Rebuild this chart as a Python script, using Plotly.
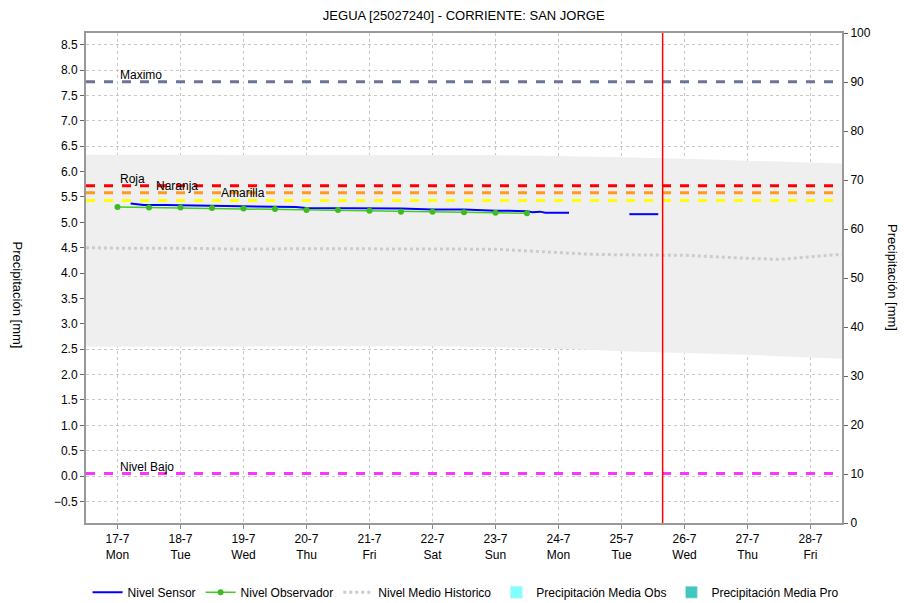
import plotly.graph_objects as go

# ---------------- DATA ----------------
title = "JEGUA [25027240] - CORRIENTE: SAN JORGE"

day_ticks = ["2023-07-%02d" % d for d in range(17, 29)]
day_labels = ["17-7<br>Mon", "18-7<br>Tue", "19-7<br>Wed", "20-7<br>Thu", "21-7<br>Fri",
              "22-7<br>Sat", "23-7<br>Sun", "24-7<br>Mon", "25-7<br>Tue", "26-7<br>Wed",
              "27-7<br>Thu", "28-7<br>Fri"]

sensor_time = ["2023-07-17 05:00", "2023-07-17 08:00", "2023-07-17 10:00", "2023-07-17 18:00",
               "2023-07-18 12:00", "2023-07-19 00:00", "2023-07-19 12:00", "2023-07-19 20:00",
               "2023-07-20 00:00", "2023-07-20 12:00", "2023-07-21 00:00", "2023-07-21 12:00",
               "2023-07-22 00:00", "2023-07-22 12:00", "2023-07-23 00:00", "2023-07-23 12:00",
               "2023-07-23 14:00", "2023-07-23 17:00", "2023-07-23 19:00", "2023-07-24 04:00",
               "2023-07-24 16:00",
               "2023-07-25 03:00", "2023-07-25 14:00"]
sensor_level = [5.37, 5.36, 5.34, 5.34, 5.33, 5.32, 5.31, 5.30,
                5.28, 5.28, 5.27, 5.27, 5.25, 5.25, 5.23, 5.22,
                5.20, 5.21, 5.19, 5.19,
                None,
                5.16, 5.16]

obs_time = ["2023-07-17 00:00", "2023-07-17 12:00", "2023-07-18 00:00", "2023-07-18 12:00",
            "2023-07-19 00:00", "2023-07-19 12:00", "2023-07-20 00:00", "2023-07-20 12:00",
            "2023-07-21 00:00", "2023-07-21 12:00", "2023-07-22 00:00", "2023-07-22 12:00",
            "2023-07-23 00:00", "2023-07-23 12:00"]
obs_level = [5.30, 5.29, 5.29, 5.28, 5.27, 5.26, 5.24, 5.24, 5.23, 5.21, 5.21, 5.20, 5.19, 5.18]

hist_time = ["2023-07-16 12:00", "2023-07-17 00:00", "2023-07-18 00:00", "2023-07-19 00:00",
             "2023-07-20 00:00", "2023-07-21 00:00", "2023-07-22 00:00", "2023-07-23 00:00",
             "2023-07-23 18:00", "2023-07-24 12:00", "2023-07-25 00:00", "2023-07-26 00:00",
             "2023-07-27 00:00", "2023-07-27 12:00", "2023-07-28 00:00", "2023-07-28 12:00"]
hist_mean = [4.50, 4.49, 4.49, 4.47, 4.48, 4.48, 4.47, 4.47,
             4.42, 4.37, 4.36, 4.35, 4.29, 4.27, 4.32, 4.37]
hist_upper = [6.33, 6.33, 6.33, 6.33, 6.33, 6.33, 6.32, 6.32,
              6.31, 6.30, 6.28, 6.25, 6.21, 6.19, 6.17, 6.16]
hist_lower = [2.55, 2.55, 2.55, 2.55, 2.55, 2.56, 2.56, 2.54,
              2.52, 2.49, 2.46, 2.43, 2.39, 2.36, 2.33, 2.31]

threshold_names = ["Maximo", "Roja", "Naranja", "Amarilla", "Nivel Bajo"]
threshold_values = [7.77, 5.72, 5.58, 5.43, 0.05]
threshold_label_time = ["2023-07-17 00:00", "2023-07-17 00:00", "2023-07-17 14:00",
                        "2023-07-18 14:30", "2023-07-17 00:00"]

now_time = "2023-07-25 15:40"

# ---------------- STYLE ----------------
threshold_colors = ["#6c7396", "#ff0000", "#ff9a1f", "#ffff00", "#ff33ff"]
FONT = "Liberation Sans, Arial, sans-serif"

fig = go.Figure()

# historic band
fig.add_trace(go.Scatter(x=hist_time, y=hist_upper, mode="lines", line=dict(width=0),
                         showlegend=False, hoverinfo="skip"))
fig.add_trace(go.Scatter(x=hist_time, y=hist_lower, mode="lines", line=dict(width=0),
                         fill="tonexty", fillcolor="#efefef", showlegend=False, hoverinfo="skip"))

# thresholds
for name, val, col, lt in zip(threshold_names, threshold_values, threshold_colors, threshold_label_time):
    fig.add_hline(y=val, line=dict(color=col, width=3, dash="dash"), layer="above")
    fig.add_annotation(x=lt, y=val, text=name, showarrow=False, xanchor="left",
                       yanchor="middle", yshift=7, font=dict(size=12, color="black", family=FONT))

fig.add_trace(go.Scatter(x=sensor_time, y=sensor_level, mode="lines", name="Nivel Sensor",
                         line=dict(color="#0000ff", width=2), connectgaps=False))
fig.add_trace(go.Scatter(x=obs_time, y=obs_level, mode="lines+markers", name="Nivel Observador",
                         line=dict(color="#44cc22", width=1.5),
                         marker=dict(color="#3cbb22", size=6)))
fig.add_trace(go.Scatter(x=hist_time, y=hist_mean, mode="lines", name="Nivel Medio Historico",
                         line=dict(color="#cccccc", width=3, dash="dot")))

# precipitation legend entries (no visible data)
fig.add_trace(go.Bar(x=[day_ticks[0]], y=[0], name="Precipitación Media Obs",
                     marker_color="#80ffff", yaxis="y2"))
fig.add_trace(go.Bar(x=[day_ticks[0]], y=[0], name="Precipitación Media Pro",
                     marker_color="#40c8c0", yaxis="y2"))

fig.add_vline(x=now_time, line=dict(color="#ff0000", width=1.5), layer="above")

fig.update_layout(
    width=904, height=603,
    margin=dict(l=86, r=62, t=33, b=80, autoexpand=False),
    paper_bgcolor="white", plot_bgcolor="white",
    font=dict(family=FONT, size=12, color="black"),
    title=dict(text=title, x=0.513, xanchor="center", y=0.975, yanchor="middle",
               font=dict(size=13, family=FONT)),
    showlegend=True,
    legend=dict(orientation="h", xref="container", yref="container",
                x=0.515, xanchor="center", y=0.018, yanchor="middle",
                font=dict(size=12, family=FONT), itemwidth=30, tracegroupgap=0,
                traceorder="normal"),
    xaxis=dict(type="date", range=["2023-07-16 12:00", "2023-07-28 12:00"], automargin=False,
               tickvals=day_ticks, ticktext=day_labels, ticks="outside", ticklen=4,
               tickcolor="#888", showgrid=True, gridcolor="#c8c8c8", griddash="dot",
               showline=True, linecolor="#999", linewidth=2, mirror=True, zeroline=False),
    yaxis=dict(range=[-0.925, 8.73], tick0=0, dtick=0.5, tickformat=".1f", automargin=False,
               ticks="outside", ticklen=4, tickcolor="#666",
               showgrid=True, gridcolor="#c8c8c8", griddash="dot",
               showline=True, linecolor="#999", linewidth=2, zeroline=False),
    yaxis2=dict(range=[0, 100], dtick=10, overlaying="y", side="right", automargin=False,
                ticks="outside", ticklen=4, tickcolor="#666", showgrid=False,
                showline=True, linecolor="#999", linewidth=2, zeroline=False),
    bargap=0.5,
)

fig.add_annotation(xref="paper", yref="paper", x=-0.103, y=0.465, text="Precipitación [mm]",
                   textangle=90, showarrow=False, font=dict(size=13, family=FONT))
fig.add_annotation(xref="paper", yref="paper", x=1.08, y=0.5, text="Precipitación [mm]",
                   textangle=90, showarrow=False, font=dict(size=13, family=FONT))

fig.write_html("out.html", config={"displayModeBar": False},
               post_script="document.body.style.margin='0';document.body.style.overflow='hidden';")
